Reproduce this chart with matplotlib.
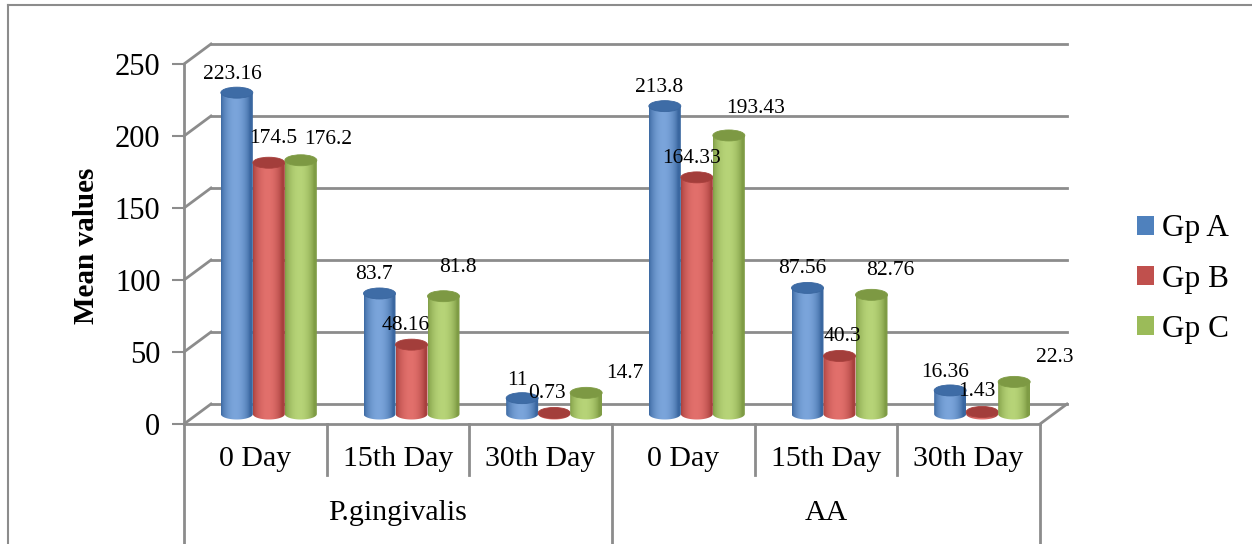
import numpy as np
import matplotlib
matplotlib.use("Agg")
import matplotlib.pyplot as plt
from matplotlib.patches import Ellipse, Polygon, Patch
from matplotlib.lines import Line2D
import matplotlib.transforms as mtransforms

# ---------------- data ----------------
days = ["0 Day", "15th Day", "30th Day", "0 Day", "15th Day", "30th Day"]
groups = ["P.gingivalis", "AA"]
series_names = ["Gp A", "Gp B", "Gp C"]
gp_a = [223.16, 83.7, 11, 213.8, 87.56, 16.36]
gp_b = [174.5, 48.16, 0.73, 164.33, 40.3, 1.43]
gp_c = [176.2, 81.8, 14.7, 193.43, 82.76, 22.3]
y_ticks = [0, 50, 100, 150, 200, 250]

# label offsets (pixels) relative to top of each cylinder, per series
lab_off_a = [(-4, -18), (-6, -19), (-5, -18), (-6, -19), (-5, -19), (-5, -18)]
lab_off_b = [(4, -24), (-6, -19), (-7, -19), (-5, -19), (3, -19), (-5, -20)]
lab_off_c = [(27, -21), (14, -29), (39, -19), (27, -27), (19, -24), (41, -24)]

# ---------------- styling ----------------
W, H, DPI = 1252, 544, 100
SERIF = ["Liberation Serif", "DejaVu Serif"]
plt.rcParams["font.family"] = SERIF

base_cols = {
    "Gp A": ("#3A67A0", "#7BA5DB", "#3E6CA6"),
    "Gp B": ("#A8403D", "#E2706C", "#A33E3B"),
    "Gp C": ("#7F9C45", "#B7D478", "#7D9943"),
}
legend_cols = ["#4F81BD", "#C0504D", "#9BBB59"]
grid_col = "#8C8C8C"

fig = plt.figure(figsize=(W / DPI, H / DPI), dpi=DPI)

# front plane of the 3-D chart
fx0, fx1 = 184, 1040
fy0, fy1 = 424, 64     # pixel rows of 0 and 250
ax = fig.add_axes([fx0 / W, (H - fy0) / H, (fx1 - fx0) / W, (fy0 - fy1) / H])
ax.set_xlim(0, 6)
ax.set_ylim(0, 250)
for s in ax.spines.values():
    s.set_visible(False)
ax.set_xticks([])
ax.set_yticks(y_ticks)
ax.set_yticklabels([str(v) for v in y_ticks], fontsize=22)
ax.tick_params(axis="y", length=9, width=1.5, color=grid_col, pad=8)
ax.patch.set_alpha(0)

px_per_x = (fx1 - fx0) / 6.0
px_per_y = (fy0 - fy1) / 250.0
DX_PX, DY_PX = 27, 20
dxd = DX_PX / px_per_x
dyd = DY_PX / px_per_y

# back wall gridlines + diagonals
for v in y_ticks:
    ax.add_line(Line2D([dxd, 6 + dxd], [v + dyd, v + dyd], color=grid_col, lw=2, clip_on=False, zorder=1))
    ax.add_line(Line2D([0, dxd], [v, v + dyd], color=grid_col, lw=2, clip_on=False, zorder=1))
# floor
ax.add_line(Line2D([0, 6], [0, 0], color=grid_col, lw=2, clip_on=False, zorder=1))
ax.add_line(Line2D([6, 6 + dxd], [0, dyd], color=grid_col, lw=2, clip_on=False, zorder=1))

# front y axis line extended through category area
ax.add_line(Line2D([0, 0], [250, 0], color=grid_col, lw=2, clip_on=False, zorder=1))
bottom_ax = -(H - fy0) / (fy0 - fy1)
blend = mtransforms.blended_transform_factory(ax.transData, ax.transAxes)
for i in range(7):
    if i in (0, 3, 6):
        y_end = bottom_ax
    else:
        y_end = (fy0 - 475) / (fy0 - fy1)
    ax.add_line(Line2D([i, i], [0, y_end], color=grid_col, lw=2, transform=blend, clip_on=False))

# category labels
for i, d in enumerate(days):
    ax.text(i + 0.5, (fy0 - 459) / (fy0 - fy1), d, transform=blend, ha="center", va="center",
            fontsize=21.5, clip_on=False)
for g, gname in enumerate(groups):
    ax.text(g * 3 + 1.5, (fy0 - 513) / (fy0 - fy1), gname, transform=blend, ha="center",
            va="center", fontsize=21.5, clip_on=False)

# cylinders
bar_w = 32 / px_per_x
ell_h = 11 / px_per_y
mdx, mdy = dxd / 2, dyd / 2
t = np.linspace(0, 1, 80)
prof = np.clip(np.sin(np.pi * np.clip(t * 1.1, 0, 1)) ** 0.7, 0, 1)


def cylinder(xc, val, name, z):
    dark, light, top = base_cols[name]
    dk = np.array(matplotlib.colors.to_rgb(dark))
    lt = np.array(matplotlib.colors.to_rgb(light))
    img = dk[None, :] + (lt - dk)[None, :] * prof[:, None]
    img = img[None, :, :]
    x0, x1 = xc - bar_w / 2, xc + bar_w / 2
    yb, yt = mdy, val + mdy
    ang = np.linspace(np.pi, 2 * np.pi, 40)
    pts = [(x0, yt), (x0, yb)]
    pts += [(xc + bar_w / 2 * np.cos(a), yb + ell_h / 2 * np.sin(a)) for a in ang]
    pts += [(x1, yt)]
    poly = Polygon(pts, closed=True, transform=ax.transData, facecolor="none", edgecolor="none")
    ax.add_patch(poly)
    im = ax.imshow(img, extent=[x0, x1, yb - ell_h, yt + ell_h], aspect="auto",
                   interpolation="bilinear", zorder=z)
    im.set_clip_path(poly)
    e = Ellipse((xc, yt), bar_w, ell_h, facecolor=top, edgecolor=dark, lw=0.6, zorder=z + 0.1)
    ax.add_patch(e)


series = [("Gp A", gp_a, lab_off_a), ("Gp B", gp_b, lab_off_b), ("Gp C", gp_c, lab_off_c)]
z = 3
for i in range(6):
    for j, (name, vals, offs) in enumerate(series):
        xc = i + 0.5 + mdx + (j - 1) * bar_w
        cylinder(xc, vals[i], name, z)
        z += 0.2
for i in range(6):
    for j, (name, vals, offs) in enumerate(series):
        xc = i + 0.5 + mdx + (j - 1) * bar_w
        ox, oy = offs[i]
        ax.annotate(f"{vals[i]:g}", (xc, vals[i] + mdy), xytext=(ox * 72 / DPI, -oy * 72 / DPI),
                    textcoords="offset points", ha="center", va="center", fontsize=15.5,
                    annotation_clip=False, zorder=50)

ax.set_xlim(0, 6)
ax.set_ylim(0, 250)

# y label
fig.text(86 / W, (H - 246) / H, "Mean values", rotation=90, ha="center", va="center",
         fontsize=21, fontweight="bold")

# legend
handles = [Patch(facecolor=c, edgecolor="none") for c in legend_cols]
fig.legend(handles, series_names, loc="center left", bbox_to_anchor=(1137 / W, (H - 279) / H),
           frameon=False, fontsize=22.5, handlelength=0.55, handleheight=0.55, handletextpad=0.25,
           labelspacing=0.68, borderaxespad=0, borderpad=0)

# outer frame
fig.add_artist(Line2D([8 / W, 8 / W], [0, (H - 5) / H], color="#8C8C8C", lw=1.5,
                      transform=fig.transFigure))
fig.add_artist(Line2D([8 / W, 1], [(H - 5) / H, (H - 5) / H], color="#8C8C8C", lw=1.5,
                      transform=fig.transFigure))

fig.savefig("out.png", dpi=DPI)
